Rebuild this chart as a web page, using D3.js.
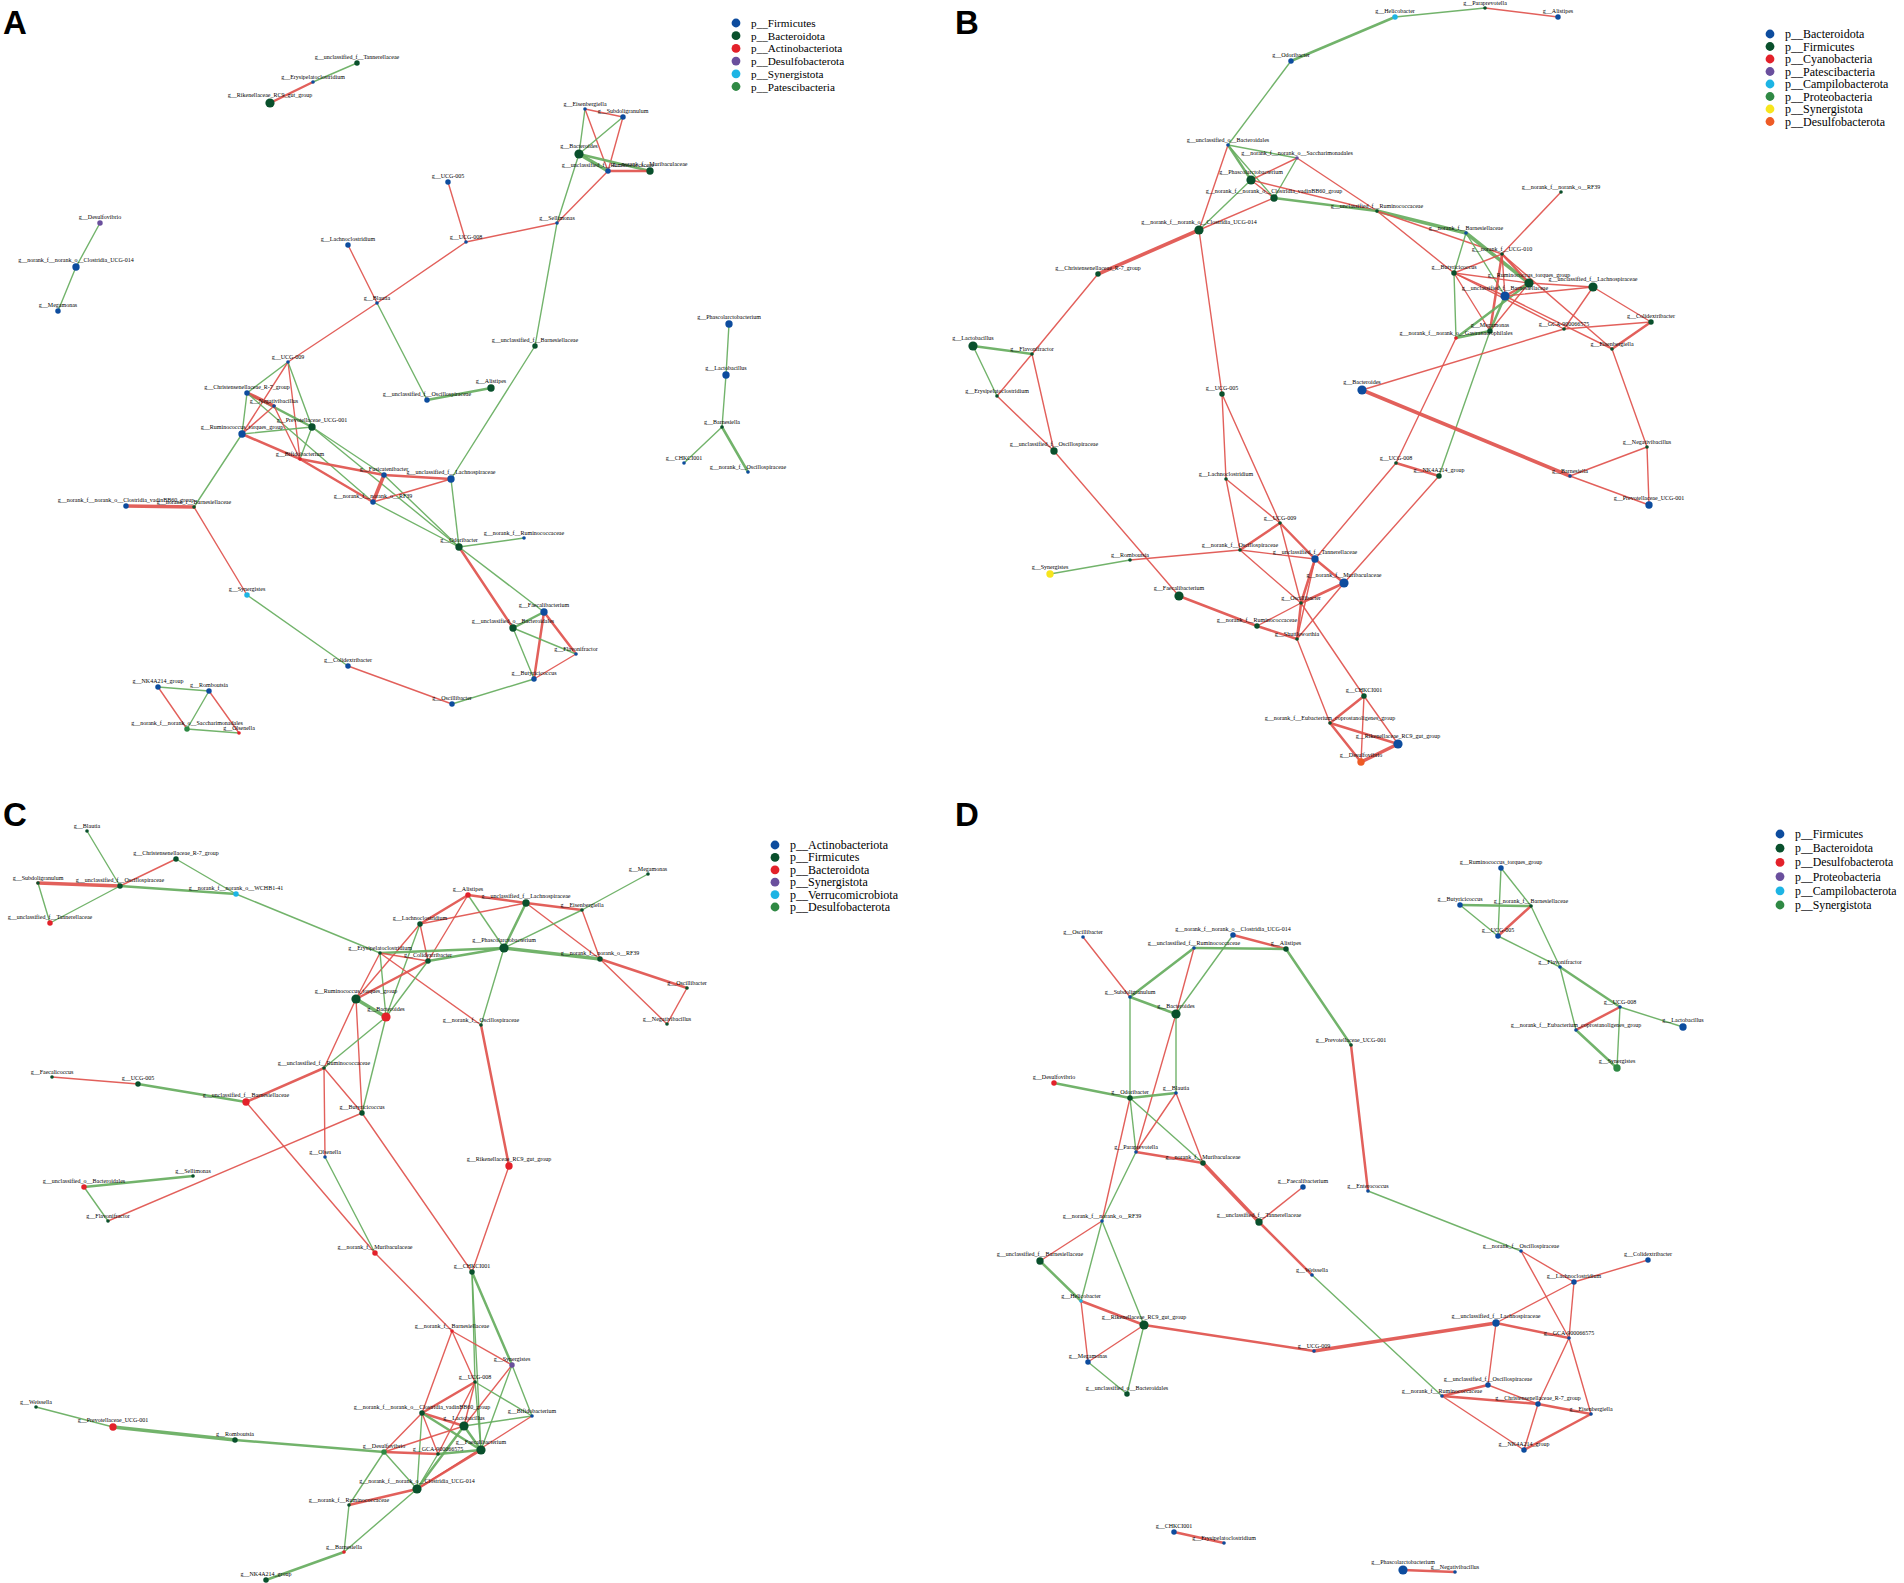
<!DOCTYPE html>
<html>
<head>
<meta charset="utf-8">
<script src="https://cdn.jsdelivr.net/npm/d3@7"></script>
<style>
  body { margin: 0; background: #fff; }
  svg { display: block; background: #fff; }
  .lbl { font-family: "Liberation Serif", "Times New Roman", serif; font-size: 6px; fill: #000; }
  .leg { font-family: "Liberation Serif", "Times New Roman", serif; fill: #000; }
  .letter { font-family: "Liberation Sans", Arial, sans-serif; font-weight: bold; font-size: 33px; fill: #000; }
</style>
</head>
<body>
<svg id="chart"></svg>
<script>
// phylum lists (legend order), one per network
var phylaA = ["p__Firmicutes", "p__Bacteroidota", "p__Actinobacteriota", "p__Desulfobacterota", "p__Synergistota", "p__Patescibacteria"];
var phylaB = ["p__Bacteroidota", "p__Firmicutes", "p__Cyanobacteria", "p__Patescibacteria", "p__Campilobacterota", "p__Proteobacteria", "p__Synergistota", "p__Desulfobacterota"];
var phylaC = ["p__Actinobacteriota", "p__Firmicutes", "p__Bacteroidota", "p__Synergistota", "p__Verrucomicrobiota", "p__Desulfobacterota"];
var phylaD = ["p__Firmicutes", "p__Bacteroidota", "p__Desulfobacterota", "p__Proteobacteria", "p__Campilobacterota", "p__Synergistota"];

// nodes: [genus, phylum index, degree class, layout x, layout y]
var nodesA = [
  ["unclassified_f__Tannerellaceae", 1, 2, 357, 63],
  ["Erysipelatoclostridium", 0, 1, 313, 82],
  ["Rikenellaceae_RC9_gut_group", 1, 4, 270, 103],
  ["Desulfovibrio", 3, 2, 100, 223],
  ["norank_f__norank_o__Clostridia_UCG-014", 0, 3, 76, 267],
  ["Megamonas", 0, 2, 58, 311],
  ["Eisenbergiella", 0, 1, 585, 109],
  ["Subdoligranulum", 0, 2, 623, 117],
  ["Bacteroides", 1, 4, 579, 154],
  ["unclassified_f__Ruminococcaceae", 0, 2, 608, 171],
  ["norank_f__Muribaculaceae", 1, 3, 650, 171],
  ["UCG-005", 0, 2, 448, 182],
  ["Sellimonas", 0, 1, 557, 223],
  ["UCG-008", 0, 1, 466, 242],
  ["Lachnoclostridium", 0, 2, 348, 245],
  ["Blautia", 0, 1, 377, 303],
  ["unclassified_f__Barnesiellaceae", 1, 2, 535, 346],
  ["Alistipes", 1, 3, 491, 388],
  ["unclassified_f__Oscillospiraceae", 0, 2, 427, 400],
  ["UCG-009", 0, 1, 288, 362],
  ["Christensenellaceae_R-7_group", 0, 2, 247, 393],
  ["Negativibacillus", 0, 1, 274, 406],
  ["Prevotellaceae_UCG-001", 1, 3, 312, 427],
  ["Ruminococcus_torques_group", 0, 3, 242, 434],
  ["Bifidobacterium", 2, 1, 300, 459],
  ["Fusicatenibacter", 0, 2, 384, 475],
  ["unclassified_f__Lachnospiraceae", 0, 3, 451, 479],
  ["norank_f__norank_o__RF39", 0, 2, 373, 502],
  ["norank_f__norank_o__Clostridia_vadinBB60_group", 0, 2, 126, 506],
  ["norank_f__Barnesiellaceae", 1, 1, 194, 507],
  ["Odoribacter", 1, 3, 459, 547],
  ["norank_f__Ruminococcaceae", 0, 1, 524, 538],
  ["Synergistes", 4, 2, 247, 595],
  ["Faecalibacterium", 0, 3, 544, 612],
  ["unclassified_o__Bacteroidales", 1, 3, 513, 628],
  ["Flavonifractor", 0, 1, 576, 654],
  ["Colidextribacter", 0, 2, 348, 666],
  ["Butyricicoccus", 0, 2, 534, 679],
  ["Oscillibacter", 0, 2, 452, 704],
  ["NK4A214_group", 0, 2, 158, 687],
  ["Romboutsia", 0, 2, 209, 691],
  ["norank_f__norank_o__Saccharimonadales", 5, 2, 187, 729],
  ["Olsenella", 2, 1, 239, 733],
  ["Phascolarctobacterium", 0, 3, 729, 324],
  ["Lactobacillus", 0, 3, 726, 375],
  ["Barnesiella", 1, 1, 722, 427],
  ["CHKCI001", 0, 1, 684, 463],
  ["norank_f__Oscillospiraceae", 0, 1, 748, 472]
];

// edges: [source, target, sign (+1 positive, -1 negative), weight class]
var edgesA = [
  ["unclassified_f__Tannerellaceae", "Erysipelatoclostridium", -1, 1],
  ["Erysipelatoclostridium", "Rikenellaceae_RC9_gut_group", 1, 2],
  ["Desulfovibrio", "norank_f__norank_o__Clostridia_UCG-014", -1, 1],
  ["norank_f__norank_o__Clostridia_UCG-014", "Megamonas", -1, 1],
  ["Eisenbergiella", "Subdoligranulum", 1, 1],
  ["Eisenbergiella", "Bacteroides", -1, 1],
  ["Eisenbergiella", "unclassified_f__Ruminococcaceae", 1, 1],
  ["Subdoligranulum", "Bacteroides", -1, 1],
  ["Subdoligranulum", "unclassified_f__Ruminococcaceae", 1, 1],
  ["Bacteroides", "unclassified_f__Ruminococcaceae", -1, 3],
  ["Bacteroides", "norank_f__Muribaculaceae", -1, 2],
  ["unclassified_f__Ruminococcaceae", "norank_f__Muribaculaceae", 1, 2],
  ["Bacteroides", "Sellimonas", -1, 1],
  ["unclassified_f__Ruminococcaceae", "Sellimonas", 1, 1],
  ["Sellimonas", "unclassified_f__Barnesiellaceae", -1, 1],
  ["UCG-005", "UCG-008", 1, 1],
  ["UCG-008", "Sellimonas", 1, 1],
  ["UCG-008", "Blautia", 1, 1],
  ["Blautia", "UCG-009", 1, 1],
  ["Lachnoclostridium", "Blautia", 1, 1],
  ["Blautia", "unclassified_f__Oscillospiraceae", -1, 1],
  ["unclassified_f__Oscillospiraceae", "Alistipes", -1, 2],
  ["unclassified_f__Barnesiellaceae", "unclassified_f__Lachnospiraceae", -1, 1],
  ["UCG-009", "Christensenellaceae_R-7_group", -1, 1],
  ["UCG-009", "Ruminococcus_torques_group", 1, 1],
  ["UCG-009", "Bifidobacterium", 1, 1],
  ["UCG-009", "Prevotellaceae_UCG-001", -1, 1],
  ["Christensenellaceae_R-7_group", "Prevotellaceae_UCG-001", -1, 2],
  ["Christensenellaceae_R-7_group", "Negativibacillus", 1, 3],
  ["Christensenellaceae_R-7_group", "Ruminococcus_torques_group", -1, 1],
  ["Christensenellaceae_R-7_group", "norank_f__norank_o__RF39", -1, 1],
  ["Negativibacillus", "Ruminococcus_torques_group", 1, 1],
  ["Negativibacillus", "Bifidobacterium", 1, 1],
  ["Ruminococcus_torques_group", "Prevotellaceae_UCG-001", -1, 1],
  ["Ruminococcus_torques_group", "Bifidobacterium", 1, 2],
  ["Ruminococcus_torques_group", "norank_f__Barnesiellaceae", -1, 1],
  ["Prevotellaceae_UCG-001", "Bifidobacterium", -1, 1],
  ["Prevotellaceae_UCG-001", "Fusicatenibacter", -1, 1],
  ["Prevotellaceae_UCG-001", "Odoribacter", -1, 1],
  ["Bifidobacterium", "Fusicatenibacter", 1, 2],
  ["Bifidobacterium", "norank_f__norank_o__RF39", 1, 2],
  ["Fusicatenibacter", "unclassified_f__Lachnospiraceae", 1, 2],
  ["Fusicatenibacter", "norank_f__norank_o__RF39", 1, 3],
  ["Fusicatenibacter", "Odoribacter", -1, 1],
  ["norank_f__norank_o__RF39", "unclassified_f__Lachnospiraceae", 1, 1],
  ["norank_f__norank_o__RF39", "Odoribacter", -1, 1],
  ["unclassified_f__Lachnospiraceae", "Odoribacter", -1, 1],
  ["Odoribacter", "norank_f__Ruminococcaceae", -1, 1],
  ["Odoribacter", "unclassified_o__Bacteroidales", 1, 2],
  ["Odoribacter", "Faecalibacterium", -1, 1],
  ["Faecalibacterium", "unclassified_o__Bacteroidales", -1, 2],
  ["Faecalibacterium", "Flavonifractor", 1, 2],
  ["Faecalibacterium", "Butyricicoccus", 1, 2],
  ["unclassified_o__Bacteroidales", "Flavonifractor", -1, 1],
  ["unclassified_o__Bacteroidales", "Butyricicoccus", -1, 1],
  ["Flavonifractor", "Butyricicoccus", 1, 1],
  ["Butyricicoccus", "Oscillibacter", -1, 1],
  ["Oscillibacter", "Colidextribacter", 1, 1],
  ["Colidextribacter", "Synergistes", -1, 1],
  ["Synergistes", "norank_f__Barnesiellaceae", 1, 1],
  ["norank_f__Barnesiellaceae", "norank_f__norank_o__Clostridia_vadinBB60_group", 1, 3],
  ["NK4A214_group", "Romboutsia", -1, 1],
  ["NK4A214_group", "norank_f__norank_o__Saccharimonadales", 1, 1],
  ["Romboutsia", "norank_f__norank_o__Saccharimonadales", -1, 1],
  ["Romboutsia", "Olsenella", 1, 1],
  ["norank_f__norank_o__Saccharimonadales", "Olsenella", -1, 1],
  ["Phascolarctobacterium", "Lactobacillus", -1, 1],
  ["Lactobacillus", "Barnesiella", -1, 1],
  ["Barnesiella", "CHKCI001", -1, 1],
  ["Barnesiella", "norank_f__Oscillospiraceae", -1, 2]
];

var nodesB = [
  ["Helicobacter", 4, 2, 443, 17],
  ["Paraprevotella", 1, 1, 533, 8],
  ["Alistipes", 0, 2, 606, 17],
  ["Odoribacter", 0, 2, 339, 61],
  ["unclassified_o__Bacteroidales", 0, 1, 276, 145],
  ["norank_f__norank_o__Saccharimonadales", 3, 1, 345, 158],
  ["Phascolarctobacterium", 1, 4, 299, 180],
  ["norank_f__norank_o__Clostridia_vadinBB60_group", 1, 3, 322, 198],
  ["unclassified_f__Ruminococcaceae", 1, 1, 425, 211],
  ["norank_f__norank_o__Clostridia_UCG-014", 1, 4, 247, 230],
  ["Christensenellaceae_R-7_group", 1, 2, 146, 274],
  ["norank_f__Barnesiellaceae", 0, 1, 514, 233],
  ["norank_f__UCG-010", 1, 1, 550, 254],
  ["norank_f__norank_o__RF39", 1, 1, 609, 192],
  ["Butyricicoccus", 1, 2, 502, 273],
  ["Ruminococcus_torques_group", 1, 4, 577, 283],
  ["unclassified_f__Lachnospiraceae", 1, 4, 641, 287],
  ["unclassified_f__Barnesiellaceae", 0, 4, 553, 296],
  ["Colidextribacter", 1, 2, 699, 322],
  ["GCA-900066575", 1, 1, 612, 329],
  ["Megamonas", 1, 2, 538, 331],
  ["norank_f__norank_o__Gastranaerophilales", 2, 1, 504, 338],
  ["Eisenbergiella", 1, 1, 660, 349],
  ["Bacteroides", 0, 4, 410, 390],
  ["Negativibacillus", 1, 1, 695, 447],
  ["Barnesiella", 0, 1, 618, 476],
  ["Prevotellaceae_UCG-001", 0, 3, 697, 505],
  ["UCG-008", 1, 1, 444, 463],
  ["NK4A214_group", 1, 2, 487, 476],
  ["Lactobacillus", 1, 4, 21, 346],
  ["Flavonifractor", 1, 1, 80, 354],
  ["Erysipelatoclostridium", 1, 1, 45, 396],
  ["unclassified_f__Oscillospiraceae", 1, 3, 102, 451],
  ["UCG-005", 1, 2, 270, 394],
  ["Lachnoclostridium", 1, 1, 274, 479],
  ["UCG-009", 1, 1, 328, 523],
  ["norank_f__Oscillospiraceae", 1, 1, 288, 550],
  ["Romboutsia", 1, 1, 178, 560],
  ["Synergistes", 6, 3, 98, 574],
  ["unclassified_f__Tannerellaceae", 0, 3, 363, 559],
  ["norank_f__Muribaculaceae", 0, 4, 392, 583],
  ["Faecalibacterium", 1, 4, 227, 596],
  ["Oscillibacter", 1, 1, 349, 603],
  ["norank_f__Ruminococcaceae", 1, 2, 305, 626],
  ["Shuttleworthia", 1, 1, 345, 639],
  ["CHKCI001", 1, 2, 412, 696],
  ["norank_f__Eubacterium_coprostanoligenes_group", 1, 1, 378, 723],
  ["Rikenellaceae_RC9_gut_group", 0, 4, 446, 744],
  ["Desulfovibrio", 7, 3, 409, 762]
];

var edgesB = [
  ["Odoribacter", "Helicobacter", -1, 2],
  ["Helicobacter", "Paraprevotella", -1, 1],
  ["Paraprevotella", "Alistipes", 1, 1],
  ["Odoribacter", "unclassified_o__Bacteroidales", -1, 1],
  ["unclassified_o__Bacteroidales", "norank_f__norank_o__Saccharimonadales", -1, 1],
  ["unclassified_o__Bacteroidales", "Phascolarctobacterium", -1, 2],
  ["unclassified_o__Bacteroidales", "norank_f__norank_o__Clostridia_vadinBB60_group", -1, 1],
  ["unclassified_o__Bacteroidales", "norank_f__norank_o__Clostridia_UCG-014", 1, 1],
  ["norank_f__norank_o__Saccharimonadales", "Phascolarctobacterium", 1, 1],
  ["norank_f__norank_o__Saccharimonadales", "norank_f__norank_o__Clostridia_vadinBB60_group", -1, 1],
  ["norank_f__norank_o__Saccharimonadales", "unclassified_f__Ruminococcaceae", 1, 1],
  ["Phascolarctobacterium", "norank_f__norank_o__Clostridia_vadinBB60_group", 1, 1],
  ["Phascolarctobacterium", "norank_f__norank_o__Clostridia_UCG-014", -1, 1],
  ["Phascolarctobacterium", "unclassified_f__Ruminococcaceae", 1, 1],
  ["norank_f__norank_o__Clostridia_vadinBB60_group", "unclassified_f__Ruminococcaceae", -1, 2],
  ["norank_f__norank_o__Clostridia_vadinBB60_group", "norank_f__norank_o__Clostridia_UCG-014", 1, 1],
  ["norank_f__norank_o__Clostridia_UCG-014", "Christensenellaceae_R-7_group", 1, 3],
  ["norank_f__norank_o__Clostridia_UCG-014", "UCG-005", 1, 1],
  ["Christensenellaceae_R-7_group", "Flavonifractor", 1, 1],
  ["Lactobacillus", "Flavonifractor", -1, 2],
  ["Lactobacillus", "Erysipelatoclostridium", -1, 1],
  ["Flavonifractor", "Erysipelatoclostridium", 1, 1],
  ["Flavonifractor", "unclassified_f__Oscillospiraceae", 1, 1],
  ["Erysipelatoclostridium", "unclassified_f__Oscillospiraceae", 1, 1],
  ["unclassified_f__Oscillospiraceae", "Faecalibacterium", 1, 1],
  ["unclassified_f__Ruminococcaceae", "norank_f__Barnesiellaceae", -1, 3],
  ["unclassified_f__Ruminococcaceae", "Butyricicoccus", 1, 1],
  ["unclassified_f__Ruminococcaceae", "norank_f__UCG-010", 1, 1],
  ["norank_f__Barnesiellaceae", "Butyricicoccus", -1, 1],
  ["norank_f__Barnesiellaceae", "Ruminococcus_torques_group", -1, 3],
  ["norank_f__Barnesiellaceae", "unclassified_f__Barnesiellaceae", -1, 1],
  ["norank_f__norank_o__RF39", "norank_f__UCG-010", 1, 1],
  ["norank_f__UCG-010", "Butyricicoccus", 1, 1],
  ["norank_f__UCG-010", "Ruminococcus_torques_group", 1, 2],
  ["norank_f__UCG-010", "unclassified_f__Barnesiellaceae", 1, 1],
  ["norank_f__UCG-010", "Megamonas", 1, 2],
  ["norank_f__UCG-010", "Eisenbergiella", 1, 1],
  ["Butyricicoccus", "Ruminococcus_torques_group", 1, 1],
  ["Butyricicoccus", "unclassified_f__Barnesiellaceae", 1, 1],
  ["Butyricicoccus", "Megamonas", 1, 1],
  ["Butyricicoccus", "norank_f__norank_o__Gastranaerophilales", -1, 1],
  ["Butyricicoccus", "GCA-900066575", 1, 1],
  ["Ruminococcus_torques_group", "unclassified_f__Lachnospiraceae", 1, 1],
  ["Ruminococcus_torques_group", "unclassified_f__Barnesiellaceae", 1, 2],
  ["Ruminococcus_torques_group", "Megamonas", 1, 1],
  ["Ruminococcus_torques_group", "norank_f__norank_o__Gastranaerophilales", -1, 2],
  ["unclassified_f__Barnesiellaceae", "unclassified_f__Lachnospiraceae", 1, 1],
  ["unclassified_f__Barnesiellaceae", "Megamonas", -1, 2],
  ["unclassified_f__Barnesiellaceae", "Eisenbergiella", 1, 1],
  ["unclassified_f__Lachnospiraceae", "Colidextribacter", 1, 1],
  ["unclassified_f__Lachnospiraceae", "GCA-900066575", 1, 1],
  ["Colidextribacter", "GCA-900066575", 1, 1],
  ["Colidextribacter", "Eisenbergiella", 1, 2],
  ["Eisenbergiella", "Negativibacillus", 1, 1],
  ["Megamonas", "norank_f__norank_o__Gastranaerophilales", -1, 2],
  ["Megamonas", "NK4A214_group", -1, 1],
  ["norank_f__norank_o__Gastranaerophilales", "UCG-008", 1, 1],
  ["GCA-900066575", "Bacteroides", 1, 1],
  ["Bacteroides", "Barnesiella", 1, 3],
  ["Barnesiella", "Negativibacillus", 1, 1],
  ["Barnesiella", "Prevotellaceae_UCG-001", 1, 1],
  ["Negativibacillus", "Prevotellaceae_UCG-001", 1, 1],
  ["UCG-008", "NK4A214_group", 1, 2],
  ["UCG-008", "unclassified_f__Tannerellaceae", 1, 1],
  ["NK4A214_group", "norank_f__Muribaculaceae", 1, 1],
  ["UCG-005", "Lachnoclostridium", 1, 1],
  ["UCG-005", "UCG-009", 1, 1],
  ["Lachnoclostridium", "UCG-009", 1, 1],
  ["Lachnoclostridium", "norank_f__Oscillospiraceae", 1, 1],
  ["UCG-009", "norank_f__Oscillospiraceae", 1, 2],
  ["UCG-009", "unclassified_f__Tannerellaceae", 1, 2],
  ["UCG-009", "Oscillibacter", 1, 1],
  ["norank_f__Oscillospiraceae", "Romboutsia", 1, 1],
  ["norank_f__Oscillospiraceae", "unclassified_f__Tannerellaceae", 1, 1],
  ["norank_f__Oscillospiraceae", "Oscillibacter", 1, 1],
  ["Romboutsia", "Synergistes", -1, 1],
  ["unclassified_f__Tannerellaceae", "norank_f__Muribaculaceae", 1, 2],
  ["unclassified_f__Tannerellaceae", "Oscillibacter", 1, 2],
  ["unclassified_f__Tannerellaceae", "Shuttleworthia", 1, 1],
  ["norank_f__Muribaculaceae", "Oscillibacter", 1, 2],
  ["norank_f__Muribaculaceae", "Shuttleworthia", 1, 1],
  ["Faecalibacterium", "norank_f__Ruminococcaceae", 1, 2],
  ["norank_f__Ruminococcaceae", "Shuttleworthia", 1, 2],
  ["norank_f__Ruminococcaceae", "Oscillibacter", 1, 1],
  ["Oscillibacter", "Shuttleworthia", 1, 2],
  ["Oscillibacter", "CHKCI001", 1, 1],
  ["Shuttleworthia", "norank_f__Eubacterium_coprostanoligenes_group", 1, 1],
  ["CHKCI001", "norank_f__Eubacterium_coprostanoligenes_group", 1, 2],
  ["CHKCI001", "Rikenellaceae_RC9_gut_group", 1, 1],
  ["CHKCI001", "Desulfovibrio", 1, 1],
  ["norank_f__Eubacterium_coprostanoligenes_group", "Rikenellaceae_RC9_gut_group", 1, 2],
  ["norank_f__Eubacterium_coprostanoligenes_group", "Desulfovibrio", 1, 2],
  ["Rikenellaceae_RC9_gut_group", "Desulfovibrio", 1, 3]
];

var nodesC = [
  ["Blautia", 1, 1, 87, 39],
  ["Christensenellaceae_R-7_group", 1, 2, 176, 67],
  ["Subdoligranulum", 1, 1, 38, 91],
  ["unclassified_f__Oscillospiraceae", 1, 2, 120, 94],
  ["norank_f__norank_o__WCHB1-41", 4, 2, 236, 102],
  ["unclassified_f__Tannerellaceae", 2, 2, 50, 131],
  ["Megamonas", 1, 1, 648, 82],
  ["Alistipes", 2, 2, 468, 103],
  ["unclassified_f__Lachnospiraceae", 1, 3, 526, 111],
  ["Eisenbergiella", 1, 1, 582, 118],
  ["Lachnoclostridium", 1, 2, 420, 132],
  ["Phascolarctobacterium", 1, 4, 504, 156],
  ["Erysipelatoclostridium", 1, 1, 380, 161],
  ["Colidextribacter", 1, 2, 428, 169],
  ["norank_f__norank_o__RF39", 1, 2, 600, 167],
  ["Oscillibacter", 1, 1, 687, 196],
  ["Ruminococcus_torques_group", 1, 4, 356, 207],
  ["Bacteroides", 2, 4, 386, 225],
  ["norank_f__Oscillospiraceae", 1, 1, 481, 233],
  ["Negativibacillus", 1, 1, 667, 232],
  ["unclassified_f__Ruminococcaceae", 1, 1, 324, 276],
  ["Faecalicoccus", 1, 1, 52, 285],
  ["UCG-005", 1, 2, 138, 292],
  ["unclassified_f__Barnesiellaceae", 2, 3, 246, 310],
  ["Butyricicoccus", 1, 2, 362, 321],
  ["Olsenella", 0, 1, 325, 365],
  ["Rikenellaceae_RC9_gut_group", 2, 3, 509, 374],
  ["Sellimonas", 1, 1, 193, 384],
  ["unclassified_o__Bacteroidales", 2, 2, 84, 395],
  ["Flavonifractor", 1, 1, 108, 429],
  ["norank_f__Muribaculaceae", 2, 2, 375, 461],
  ["CHKCI001", 1, 2, 472, 480],
  ["norank_f__Barnesiellaceae", 2, 1, 452, 539],
  ["Synergistes", 3, 2, 512, 573],
  ["UCG-008", 1, 1, 475, 590],
  ["Weissella", 1, 1, 36, 615],
  ["norank_f__norank_o__Clostridia_vadinBB60_group", 1, 2, 422, 621],
  ["Bifidobacterium", 0, 1, 532, 624],
  ["Prevotellaceae_UCG-001", 2, 3, 113, 635],
  ["Lactobacillus", 1, 4, 464, 634],
  ["Romboutsia", 1, 2, 235, 648],
  ["Desulfovibrio", 5, 2, 384, 660],
  ["GCA-900066575", 1, 1, 438, 662],
  ["Faecalibacterium", 1, 4, 481, 658],
  ["norank_f__norank_o__Clostridia_UCG-014", 1, 4, 417, 697],
  ["norank_f__Ruminococcaceae", 1, 1, 349, 713],
  ["Barnesiella", 2, 1, 344, 760],
  ["NK4A214_group", 1, 2, 266, 788]
];

var edgesC = [
  ["Blautia", "unclassified_f__Oscillospiraceae", -1, 1],
  ["Christensenellaceae_R-7_group", "unclassified_f__Oscillospiraceae", 1, 1],
  ["Christensenellaceae_R-7_group", "norank_f__norank_o__WCHB1-41", -1, 1],
  ["Subdoligranulum", "unclassified_f__Oscillospiraceae", 1, 3],
  ["Subdoligranulum", "unclassified_f__Tannerellaceae", -1, 1],
  ["unclassified_f__Oscillospiraceae", "unclassified_f__Tannerellaceae", -1, 1],
  ["unclassified_f__Oscillospiraceae", "norank_f__norank_o__WCHB1-41", -1, 2],
  ["norank_f__norank_o__WCHB1-41", "Erysipelatoclostridium", -1, 1],
  ["Megamonas", "Eisenbergiella", -1, 1],
  ["Alistipes", "unclassified_f__Lachnospiraceae", 1, 2],
  ["Alistipes", "Lachnoclostridium", 1, 2],
  ["Alistipes", "Phascolarctobacterium", -1, 1],
  ["Alistipes", "Colidextribacter", 1, 1],
  ["unclassified_f__Lachnospiraceae", "Eisenbergiella", 1, 2],
  ["unclassified_f__Lachnospiraceae", "Lachnoclostridium", 1, 1],
  ["unclassified_f__Lachnospiraceae", "Phascolarctobacterium", -1, 2],
  ["unclassified_f__Lachnospiraceae", "norank_f__norank_o__RF39", 1, 1],
  ["Eisenbergiella", "norank_f__norank_o__RF39", 1, 1],
  ["Eisenbergiella", "Phascolarctobacterium", -1, 1],
  ["Lachnoclostridium", "Colidextribacter", 1, 1],
  ["Lachnoclostridium", "Ruminococcus_torques_group", 1, 1],
  ["Lachnoclostridium", "Bacteroides", -1, 1],
  ["Phascolarctobacterium", "Erysipelatoclostridium", -1, 2],
  ["Phascolarctobacterium", "Colidextribacter", -1, 2],
  ["Phascolarctobacterium", "norank_f__norank_o__RF39", -1, 3],
  ["Phascolarctobacterium", "norank_f__Oscillospiraceae", -1, 1],
  ["Erysipelatoclostridium", "Colidextribacter", 1, 1],
  ["Erysipelatoclostridium", "Ruminococcus_torques_group", 1, 1],
  ["Erysipelatoclostridium", "Bacteroides", -1, 1],
  ["Erysipelatoclostridium", "norank_f__Oscillospiraceae", 1, 1],
  ["Colidextribacter", "Ruminococcus_torques_group", 1, 2],
  ["Colidextribacter", "Bacteroides", -1, 1],
  ["norank_f__norank_o__RF39", "Oscillibacter", 1, 2],
  ["norank_f__norank_o__RF39", "Negativibacillus", 1, 1],
  ["Oscillibacter", "Negativibacillus", 1, 1],
  ["Ruminococcus_torques_group", "Bacteroides", -1, 3],
  ["Ruminococcus_torques_group", "unclassified_f__Ruminococcaceae", 1, 1],
  ["Ruminococcus_torques_group", "Butyricicoccus", 1, 1],
  ["Bacteroides", "unclassified_f__Ruminococcaceae", -1, 1],
  ["Bacteroides", "Butyricicoccus", -1, 1],
  ["norank_f__Oscillospiraceae", "Rikenellaceae_RC9_gut_group", 1, 2],
  ["unclassified_f__Ruminococcaceae", "unclassified_f__Barnesiellaceae", 1, 2],
  ["unclassified_f__Ruminococcaceae", "Butyricicoccus", 1, 1],
  ["unclassified_f__Ruminococcaceae", "Olsenella", 1, 1],
  ["Faecalicoccus", "UCG-005", 1, 1],
  ["UCG-005", "unclassified_f__Barnesiellaceae", -1, 2],
  ["unclassified_f__Barnesiellaceae", "norank_f__Muribaculaceae", 1, 1],
  ["Butyricicoccus", "Flavonifractor", 1, 1],
  ["Butyricicoccus", "CHKCI001", 1, 1],
  ["Olsenella", "norank_f__Muribaculaceae", -1, 1],
  ["Rikenellaceae_RC9_gut_group", "CHKCI001", 1, 1],
  ["Sellimonas", "unclassified_o__Bacteroidales", -1, 2],
  ["unclassified_o__Bacteroidales", "Flavonifractor", -1, 1],
  ["norank_f__Muribaculaceae", "norank_f__Barnesiellaceae", 1, 1],
  ["CHKCI001", "UCG-008", -1, 1],
  ["CHKCI001", "Synergistes", -1, 2],
  ["CHKCI001", "Faecalibacterium", -1, 1],
  ["norank_f__Barnesiellaceae", "Synergistes", 1, 1],
  ["norank_f__Barnesiellaceae", "UCG-008", 1, 1],
  ["norank_f__Barnesiellaceae", "norank_f__norank_o__Clostridia_vadinBB60_group", 1, 1],
  ["Synergistes", "Lactobacillus", 1, 1],
  ["Synergistes", "Faecalibacterium", -1, 1],
  ["Synergistes", "Bifidobacterium", -1, 1],
  ["UCG-008", "norank_f__norank_o__Clostridia_vadinBB60_group", 1, 2],
  ["UCG-008", "Bifidobacterium", -1, 1],
  ["UCG-008", "Lactobacillus", 1, 1],
  ["UCG-008", "Faecalibacterium", -1, 1],
  ["UCG-008", "GCA-900066575", 1, 1],
  ["norank_f__norank_o__Clostridia_vadinBB60_group", "Lactobacillus", 1, 2],
  ["norank_f__norank_o__Clostridia_vadinBB60_group", "Faecalibacterium", -1, 2],
  ["norank_f__norank_o__Clostridia_vadinBB60_group", "Desulfovibrio", 1, 1],
  ["norank_f__norank_o__Clostridia_vadinBB60_group", "norank_f__norank_o__Clostridia_UCG-014", -1, 1],
  ["norank_f__norank_o__Clostridia_vadinBB60_group", "GCA-900066575", 1, 1],
  ["Bifidobacterium", "Lactobacillus", -1, 1],
  ["Bifidobacterium", "norank_f__norank_o__Clostridia_UCG-014", 1, 1],
  ["Lactobacillus", "Desulfovibrio", 1, 1],
  ["Lactobacillus", "norank_f__norank_o__Clostridia_UCG-014", -1, 2],
  ["Lactobacillus", "Faecalibacterium", -1, 2],
  ["Weissella", "Prevotellaceae_UCG-001", -1, 1],
  ["Prevotellaceae_UCG-001", "Romboutsia", -1, 3],
  ["Romboutsia", "Desulfovibrio", -1, 2],
  ["Desulfovibrio", "GCA-900066575", 1, 2],
  ["Desulfovibrio", "norank_f__norank_o__Clostridia_UCG-014", -1, 1],
  ["Desulfovibrio", "norank_f__Ruminococcaceae", -1, 1],
  ["GCA-900066575", "Faecalibacterium", -1, 2],
  ["GCA-900066575", "norank_f__norank_o__Clostridia_UCG-014", -1, 1],
  ["Faecalibacterium", "norank_f__norank_o__Clostridia_UCG-014", 1, 2],
  ["norank_f__norank_o__Clostridia_UCG-014", "norank_f__Ruminococcaceae", 1, 2],
  ["norank_f__norank_o__Clostridia_UCG-014", "Barnesiella", -1, 1],
  ["norank_f__Ruminococcaceae", "Barnesiella", -1, 1],
  ["Barnesiella", "NK4A214_group", -1, 2]
];

var nodesD = [
  ["Oscillibacter", 0, 1, 131, 145],
  ["norank_f__norank_o__Clostridia_UCG-014", 0, 2, 281, 143],
  ["unclassified_f__Ruminococcaceae", 0, 1, 242, 156],
  ["Alistipes", 1, 2, 334, 157],
  ["Subdoligranulum", 0, 1, 178, 205],
  ["Bacteroides", 1, 4, 224, 222],
  ["Prevotellaceae_UCG-001", 1, 1, 399, 253],
  ["Desulfovibrio", 2, 2, 102, 291],
  ["Odoribacter", 1, 2, 178, 306],
  ["Blautia", 0, 1, 224, 301],
  ["Paraprevotella", 0, 1, 184, 360],
  ["norank_f__Muribaculaceae", 1, 2, 251, 371],
  ["Faecalibacterium", 0, 2, 351, 395],
  ["Enterococcus", 0, 1, 416, 399],
  ["Ruminococcus_torques_group", 0, 2, 549, 76],
  ["Butyricicoccus", 0, 2, 508, 113],
  ["norank_f__Barnesiellaceae", 1, 1, 579, 114],
  ["UCG-005", 0, 2, 546, 144],
  ["Flavonifractor", 0, 1, 608, 175],
  ["UCG-008", 0, 1, 668, 215],
  ["Lactobacillus", 0, 3, 731, 235],
  ["norank_f__Eubacterium_coprostanoligenes_group", 0, 1, 624, 238],
  ["Synergistes", 5, 3, 665, 276],
  ["norank_f__norank_o__RF39", 0, 1, 150, 429],
  ["unclassified_f__Tannerellaceae", 1, 3, 307, 430],
  ["norank_f__Oscillospiraceae", 0, 1, 569, 459],
  ["Colidextribacter", 0, 2, 696, 468],
  ["unclassified_f__Barnesiellaceae", 1, 3, 88, 469],
  ["Weissella", 0, 1, 360, 483],
  ["Lachnoclostridium", 0, 2, 622, 490],
  ["Helicobacter", 4, 1, 129, 509],
  ["Rikenellaceae_RC9_gut_group", 1, 4, 192, 533],
  ["unclassified_f__Lachnospiraceae", 0, 3, 544, 531],
  ["GCA-900066575", 0, 1, 617, 546],
  ["UCG-009", 0, 1, 362, 559],
  ["Megamonas", 0, 2, 136, 570],
  ["unclassified_o__Bacteroidales", 1, 2, 175, 602],
  ["unclassified_f__Oscillospiraceae", 0, 2, 536, 593],
  ["norank_f__Ruminococcaceae", 0, 1, 490, 604],
  ["Christensenellaceae_R-7_group", 0, 2, 586, 612],
  ["Eisenbergiella", 0, 1, 639, 622],
  ["NK4A214_group", 0, 2, 572, 658],
  ["CHKCI001", 0, 2, 222, 740],
  ["Erysipelatoclostridium", 0, 1, 272, 751],
  ["Phascolarctobacterium", 0, 4, 451, 778],
  ["Negativibacillus", 0, 1, 503, 780]
];

var edgesD = [
  ["Oscillibacter", "Subdoligranulum", 1, 1],
  ["norank_f__norank_o__Clostridia_UCG-014", "Alistipes", 1, 2],
  ["norank_f__norank_o__Clostridia_UCG-014", "Bacteroides", -1, 1],
  ["unclassified_f__Ruminococcaceae", "Alistipes", -1, 2],
  ["unclassified_f__Ruminococcaceae", "Subdoligranulum", -1, 2],
  ["unclassified_f__Ruminococcaceae", "Bacteroides", 1, 1],
  ["Alistipes", "Prevotellaceae_UCG-001", -1, 2],
  ["Subdoligranulum", "Bacteroides", -1, 2],
  ["Subdoligranulum", "Odoribacter", -1, 1],
  ["Bacteroides", "Blautia", -1, 1],
  ["Bacteroides", "Paraprevotella", 1, 1],
  ["Desulfovibrio", "Odoribacter", -1, 2],
  ["Odoribacter", "Blautia", -1, 2],
  ["Odoribacter", "Paraprevotella", -1, 1],
  ["Odoribacter", "norank_f__Muribaculaceae", -1, 1],
  ["Odoribacter", "norank_f__norank_o__RF39", 1, 1],
  ["Paraprevotella", "norank_f__norank_o__RF39", -1, 1],
  ["Blautia", "Paraprevotella", 1, 1],
  ["Blautia", "norank_f__Muribaculaceae", 1, 1],
  ["Paraprevotella", "norank_f__Muribaculaceae", 1, 2],
  ["norank_f__Muribaculaceae", "unclassified_f__Tannerellaceae", 1, 3],
  ["Faecalibacterium", "unclassified_f__Tannerellaceae", 1, 1],
  ["unclassified_f__Tannerellaceae", "Weissella", 1, 2],
  ["Prevotellaceae_UCG-001", "Enterococcus", 1, 2],
  ["Enterococcus", "norank_f__Oscillospiraceae", -1, 1],
  ["Weissella", "norank_f__Ruminococcaceae", -1, 1],
  ["norank_f__norank_o__RF39", "unclassified_f__Barnesiellaceae", 1, 1],
  ["norank_f__norank_o__RF39", "Helicobacter", -1, 1],
  ["norank_f__norank_o__RF39", "Rikenellaceae_RC9_gut_group", -1, 1],
  ["unclassified_f__Barnesiellaceae", "Helicobacter", -1, 2],
  ["Helicobacter", "Rikenellaceae_RC9_gut_group", 1, 2],
  ["Helicobacter", "Megamonas", 1, 1],
  ["Rikenellaceae_RC9_gut_group", "Megamonas", 1, 1],
  ["Rikenellaceae_RC9_gut_group", "unclassified_o__Bacteroidales", -1, 1],
  ["Rikenellaceae_RC9_gut_group", "UCG-009", 1, 2],
  ["Megamonas", "unclassified_o__Bacteroidales", -1, 1],
  ["UCG-009", "unclassified_f__Lachnospiraceae", 1, 3],
  ["norank_f__Oscillospiraceae", "Lachnoclostridium", 1, 1],
  ["norank_f__Oscillospiraceae", "GCA-900066575", 1, 1],
  ["Colidextribacter", "Lachnoclostridium", 1, 1],
  ["Lachnoclostridium", "unclassified_f__Lachnospiraceae", 1, 1],
  ["Lachnoclostridium", "GCA-900066575", 1, 1],
  ["unclassified_f__Lachnospiraceae", "GCA-900066575", 1, 2],
  ["unclassified_f__Lachnospiraceae", "unclassified_f__Oscillospiraceae", 1, 1],
  ["GCA-900066575", "Christensenellaceae_R-7_group", 1, 1],
  ["GCA-900066575", "Eisenbergiella", 1, 1],
  ["unclassified_f__Oscillospiraceae", "norank_f__Ruminococcaceae", 1, 2],
  ["unclassified_f__Oscillospiraceae", "Christensenellaceae_R-7_group", 1, 1],
  ["norank_f__Ruminococcaceae", "Christensenellaceae_R-7_group", 1, 2],
  ["norank_f__Ruminococcaceae", "NK4A214_group", 1, 1],
  ["Christensenellaceae_R-7_group", "Eisenbergiella", 1, 2],
  ["Christensenellaceae_R-7_group", "NK4A214_group", 1, 1],
  ["Eisenbergiella", "NK4A214_group", 1, 2],
  ["CHKCI001", "Erysipelatoclostridium", 1, 2],
  ["Phascolarctobacterium", "Negativibacillus", 1, 2],
  ["Ruminococcus_torques_group", "UCG-005", -1, 1],
  ["Ruminococcus_torques_group", "norank_f__Barnesiellaceae", -1, 1],
  ["Butyricicoccus", "norank_f__Barnesiellaceae", -1, 2],
  ["Butyricicoccus", "UCG-005", -1, 1],
  ["norank_f__Barnesiellaceae", "UCG-005", 1, 2],
  ["norank_f__Barnesiellaceae", "Flavonifractor", -1, 1],
  ["UCG-005", "Flavonifractor", -1, 1],
  ["Flavonifractor", "UCG-008", -1, 2],
  ["Flavonifractor", "norank_f__Eubacterium_coprostanoligenes_group", -1, 1],
  ["UCG-008", "norank_f__Eubacterium_coprostanoligenes_group", 1, 2],
  ["UCG-008", "Lactobacillus", -1, 1],
  ["UCG-008", "Synergistes", -1, 1],
  ["norank_f__Eubacterium_coprostanoligenes_group", "Synergistes", -1, 2]
];

var width = 1904,
    height = 1583,
    panelW = 952,
    panelH = 792;

var phylumColors = ["#0d4c9e", "#09502c", "#e3212a", "#6a4f9d", "#1db4e4", "#2f8944", "#f7e51d", "#ee5b25"];

const svg = d3.select("#chart")
    .attr("width", width)
    .attr("height", height);

svg.append("rect")
    .attr("width", width)
    .attr("height", height)
    .attr("fill", "#fff");

const rScale = d3.scaleLinear().domain([1, 4]).range([1.8, 4.6]);
const wScale = d3.scaleLinear().domain([1, 3]).range([1.4, 3.6]);

var panels = [
    {letter: "A", col: 0, row: 0, nodes: nodesA, edges: edgesA, phyla: phylaA, legX: 736, legY: 23, legStep: 12.7, legFont: 11.2},
    {letter: "B", col: 1, row: 0, nodes: nodesB, edges: edgesB, phyla: phylaB, legX: 818, legY: 34, legStep: 12.5, legFont: 12},
    {letter: "C", col: 0, row: 1, nodes: nodesC, edges: edgesC, phyla: phylaC, legX: 775, legY: 53, legStep: 12.4, legFont: 12},
    {letter: "D", col: 1, row: 1, nodes: nodesD, edges: edgesD, phyla: phylaD, legX: 828, legY: 42, legStep: 14.2, legFont: 11.8}
];

panels.forEach(function (p) {
    drawPanel(p);
});

function drawPanel(p) {
    var ox = p.col * panelW,
        oy = p.row * panelH;

    // layout units -> page pixels
    const x = d3.scaleLinear().domain([0, panelW]).range([ox, ox + panelW]);
    const y = d3.scaleLinear().domain([0, panelH]).range([oy, oy + panelH]);

    const color = d3.scaleOrdinal()
        .domain(d3.range(p.phyla.length))
        .range(phylumColors.slice(0, p.phyla.length));

    var byName = new Map();
    p.nodes.forEach(function (d) {
        byName.set(d[0], d);
    });

    const g = svg.append("g").attr("class", "panel-" + p.letter);

    // links
    g.append("g")
        .selectAll("line")
        .data(p.edges)
        .join("line")
        .attr("x1", d => x(byName.get(d[0])[3]))
        .attr("y1", d => y(byName.get(d[0])[4]))
        .attr("x2", d => x(byName.get(d[1])[3]))
        .attr("y2", d => y(byName.get(d[1])[4]))
        .attr("stroke", d => d[2] > 0 ? "#e0524d" : "#66ad5e")
        .attr("stroke-opacity", 0.92)
        .attr("stroke-linecap", "round")
        .attr("stroke-width", d => wScale(d[3]));

    // nodes
    g.append("g")
        .selectAll("circle")
        .data(p.nodes)
        .join("circle")
        .attr("cx", d => x(d[3]))
        .attr("cy", d => y(d[4]))
        .attr("r", d => rScale(d[2]))
        .attr("fill", d => color(d[1]));

    // genus labels
    g.append("g")
        .selectAll("text")
        .data(p.nodes)
        .join("text")
        .attr("class", "lbl")
        .attr("x", d => x(d[3]))
        .attr("y", d => y(d[4]) - rScale(d[2]) - 1.2)
        .attr("text-anchor", "middle")
        .text(d => "g__" + d[0]);

    // legend
    var leg = g.append("g")
        .attr("transform", `translate(${x(p.legX)},${y(p.legY)})`);

    leg.selectAll("circle")
        .data(p.phyla)
        .join("circle")
        .attr("cx", 0)
        .attr("cy", (d, i) => i * p.legStep)
        .attr("r", 4.4)
        .attr("fill", (d, i) => color(i));

    leg.selectAll("text")
        .data(p.phyla)
        .join("text")
        .attr("class", "leg")
        .attr("x", 15)
        .attr("y", (d, i) => i * p.legStep + 4)
        .style("font-size", p.legFont + "px")
        .text(d => d);

    // panel letter
    g.append("text")
        .attr("class", "letter")
        .attr("x", x(3))
        .attr("y", y(34))
        .text(p.letter);
}
</script>
</body>
</html>
